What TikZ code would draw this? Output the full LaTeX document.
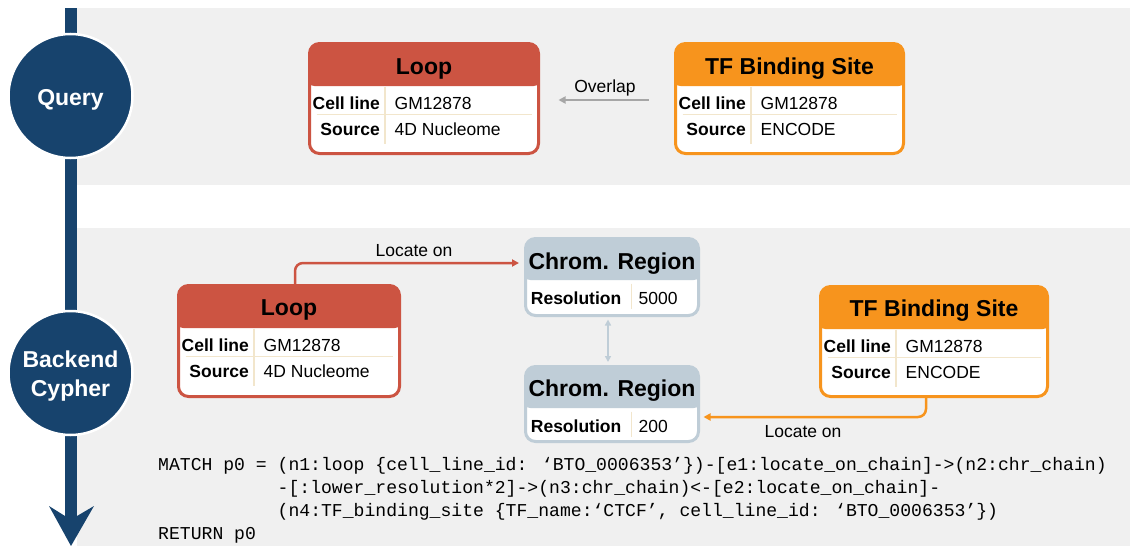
\documentclass[tikz,border=0pt]{standalone}
\usepackage{fontspec}
\setmainfont{Liberation Sans}
\newfontfamily\codefont{Liberation Mono}
\usetikzlibrary{arrows.meta,calc}
\definecolor{navy}{HTML}{17436D}
\definecolor{cRed}{HTML}{CC5442}
\definecolor{cOrange}{HTML}{F7941D}
\definecolor{cChrom}{HTML}{BFCDD7}
\definecolor{cDiv}{HTML}{F2E6CC}
\definecolor{cPanel}{HTML}{F0F0F0}
\definecolor{cGrayArr}{HTML}{A6A6A6}
\newcommand\entrows[5]{%
  \node[rowlab] (#1-l1) at ($(#1.north west)+(72,67.5)$) {#2};
  \node[rowval] (#1-v1) at ($(#1.north west)+(86.5,67.5)$) {#3};
  \node[rowlab] (#1-l2) at ($(#1.north west)+(72,93.5)$) {#4};
  \node[rowval] (#1-v2) at ($(#1.north west)+(86.5,93.5)$) {#5};
  \draw[divline] ($(#1.north west)+(8.5,72.5)$) -- ($(#1.north east)+(-8.5,72.5)$);
  \draw[divline] ($(#1.north west)+(77,44.5)$) -- ($(#1.north west)+(77,101.5)$);
}
\newcommand\chromrow[2]{%
  \node[rowlab] (#1-l1) at ($(#1.north west)+(97.5,67)$) {Resolution};
  \node[rowval] (#1-v1) at ($(#1.north west)+(114.5,67)$) {#2};
  \draw[divline] ($(#1.north west)+(107.5,46.5)$) -- ($(#1.north west)+(107.5,71.5)$);
}
\begin{document}
\begin{tikzpicture}[x=1pt,y=-1pt,
  entbox/.style 2 args={draw=#1, fill=white, line width=3pt, rounded corners=10pt, inner sep=0pt,
    path picture={\fill[#1] ($(path picture bounding box.north west)+(-5,-5)$) rectangle ($(path picture bounding box.north east)+(5,#2)$);}},
  title/.style={font=\bfseries\fontsize{23}{27}\selectfont, anchor=base, inner sep=0pt},
  rowlab/.style={font=\bfseries\fontsize{17.5}{21}\selectfont, anchor=base east, inner sep=0pt},
  rowval/.style={font=\fontsize{17.5}{21}\selectfont, anchor=base west, inner sep=0pt},
  lbl/.style={font=\fontsize{17.5}{21}\selectfont, inner sep=0pt},
  divline/.style={draw=cDiv, line width=1.2pt},
  stage/.style={circle, fill=navy, draw=white, line width=2.5pt, minimum size=124pt, inner sep=0pt},
  stagetext/.style={text=white, font=\bfseries\fontsize{23}{29}\selectfont, align=center, inner sep=0pt},
  conn/.style={line width=2.5pt, rounded corners=8pt, -{Triangle[length=7pt,width=7pt]}},
]
\useasboundingbox (0,0) rectangle (1130,546);
% panels
\fill[cPanel] (77,8) rectangle (1130,185);
\fill[cPanel] (77,228) rectangle (1130,546);
% timeline
\fill[navy] (65,8) rectangle (77,520);
\fill[navy] (65,516) -- (49,506) -- (71,546) -- (94,506) -- (77,516) -- cycle;
\node[stage] (query) at (70.5,96) {};
\node[stagetext] (query-t) at ($(query.center)+(0,4)$) {Query};
\node[stage] (backend) at (70.5,373) {};
\node[stagetext] (backend-t) at ($(backend.center)+(0,3)$) {Backend\\Cypher};

% ---- Query panel
\node[entbox={cRed}{42.5}, minimum width=229pt, minimum height=110pt] (loopQ) at (424,98.5) {};
\node[title] (loopQ-t) at ($(loopQ.north)+(0,32)$) {Loop};
\entrows{loopQ}{Cell line}{GM12878}{Source}{4D Nucleome}

\node[entbox={cOrange}{42.5}, minimum width=228pt, minimum height=110pt] (tfQ) at (789.5,98.5) {};
\node[title] (tfQ-t) at ($(tfQ.north)+(0,32)$) {TF Binding Site};
\entrows{tfQ}{Cell line}{GM12878}{Source}{ENCODE}

\draw[line width=2.5pt, cGrayArr, -{Triangle[length=7pt,width=7pt]}] ($(tfQ.west)+(-25.5,1.5)$) -- ($(loopQ.east)+(18.5,1.5)$);
\node[lbl] (ovl) at (605,88) {Overlap};

% ---- Backend panel
\node[entbox={cRed}{42.5}, minimum width=221pt, minimum height=111pt] (loopB) at (289,341) {};
\node[title] (loopB-t) at ($(loopB.north)+(0,31)$) {Loop};
\entrows{loopB}{Cell line}{GM12878}{Source}{4D Nucleome}

\node[entbox={cOrange}{42.5}, minimum width=227pt, minimum height=110pt] (tfB) at (934,341.5) {};
\node[title] (tfB-t) at ($(tfB.north)+(0,31)$) {TF Binding Site};
\entrows{tfB}{Cell line}{GM12878}{Source}{ENCODE}

\node[entbox={cChrom}{41.5}, minimum width=173pt, minimum height=77pt] (chrA) at (612,277) {};
\node[title] (chrA-t) at ($(chrA.north)+(0,32.5)$) {Chrom. Region};
\chromrow{chrA}{5000}

\node[entbox={cChrom}{41.5}, minimum width=173pt, minimum height=75pt] (chrB) at (612,404) {};
\node[title] (chrB-t) at ($(chrB.north)+(0,31)$) {Chrom. Region};
\chromrow{chrB}{200}

\draw[conn, cRed] ($(loopB.north)+(6,0)$) |- ($(chrA.west)+(-5,-14)$);
\node[lbl] (lblR) at (414,251) {Locate on};
\draw[conn, cOrange] ($(tfB.south)+(-8,0)$) |- ($(chrB.east)+(3.5,13)$);
\node[lbl] (lblO) at (803,432) {Locate on};
\draw[line width=2pt, cChrom, {Triangle[length=6pt,width=6pt]}-{Triangle[length=6pt,width=6pt]}] ($(chrA.south)+(-4,2.5)$) -- ($(chrB.north)+(-4,-3)$);

% code (anchored at the baseline of its last line)
\node[anchor=base west, align=left, inner sep=0pt, font=\codefont\fontsize{18.1}{23}\selectfont] (code) at (158,539)
{MATCH p0 = (n1:loop \{cell\_line\_id: ‘BTO\_0006353’\})-[e1:locate\_on\_chain]->(n2:chr\_chain)\\
\phantom{MATCH p0 =\ }-[:lower\_resolution*2]->(n3:chr\_chain)<-[e2:locate\_on\_chain]-\\
\phantom{MATCH p0 =\ }(n4:TF\_binding\_site \{TF\_name:‘CTCF’, cell\_line\_id: ‘BTO\_0006353’\})\\
RETURN p0};
\end{tikzpicture}
\end{document}
